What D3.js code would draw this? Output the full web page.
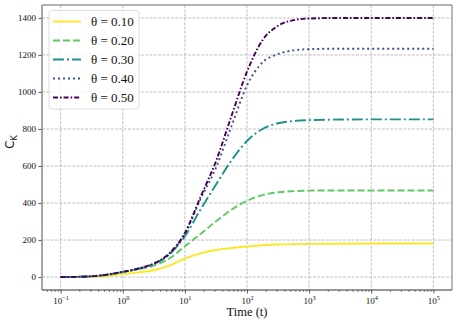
<!DOCTYPE html>
<html><head><meta charset="utf-8">
<script src="https://cdn.jsdelivr.net/npm/d3@7"></script>
<style>body{margin:0;background:#fff}svg{display:block}</style>
</head><body><svg id="c" width="458" height="325"></svg>
<script>
const times=[0.1,0.178,0.316,0.562,1,1.78,3.16,5.62,10,17.8,31.6,56.2,100,178,316,562,1000,3162,10000,31623,100000];
const theta010=[0,1,2,6,16,25,37,62,100,128,146,157,165,172,176,178,179,180,181,181,181];
const theta020=[0,1,4,12,27,42,62,100,166,232,301,364,412,443,458,464,467,468,468,468,468];
const theta030=[0,1,4,13,28,45,70,122,220,364,499,630,735,800,831,843,848,851,852,852,852];
const theta040=[0,1,4,13,28,45,72,124,234,420,590,815,1035,1160,1205,1225,1231,1234,1234,1234,1234];
const theta050=[0,1,4,13,28,46,73,128,238,432,625,870,1110,1280,1358,1388,1397,1400,1400,1400,1400];
const seriesNames=["θ = 0.10","θ = 0.20","θ = 0.30","θ = 0.40","θ = 0.50"];
const seriesValues=[theta010,theta020,theta030,theta040,theta050];
const colors=["#fde725","#5ec962","#21918c","#3b528b","#440154"];
const dashes=[null,"7,3","11,3,2,3","2,3","5,2,1.6,2"];
const xTicks=[0.1,1,10,100,1000,10000,100000];
const xTickExps=["\u22121","0","1","2","3","4","5"];
const yTicks=[0,200,400,600,800,1000,1200,1400];

const svg=d3.select("#c");
const L=42,R=452,T=5,B=290;
const x=d3.scaleLog().domain([Math.pow(10,-1.3),Math.pow(10,5.3)]).range([L,R]);
const y=d3.scaleLinear().domain([-70,1470]).range([B,T]);
const serif="Liberation Serif, Times New Roman, serif";

// grid
const grid=svg.append("g").attr("stroke","#b0b0b0").attr("stroke-width",0.8).attr("stroke-dasharray","3,1.3");
xTicks.forEach(t=>grid.append("line").attr("x1",x(t)).attr("x2",x(t)).attr("y1",T).attr("y2",B));
yTicks.forEach(v=>grid.append("line").attr("x1",L).attr("x2",R).attr("y1",y(v)).attr("y2",y(v)));

// minor ticks
const minors=[];
for(let e=-2;e<=5;e++){for(let k=2;k<=9;k++){const v=k*Math.pow(10,e);const px=x(v);if(px>=L&&px<=R)minors.push(v);}}
const xMinor=svg.append("g").attr("transform",`translate(0,${B})`)
  .call(d3.axisBottom(x).tickValues(minors).tickSize(2).tickFormat(""));
xMinor.select(".domain").remove();
xMinor.selectAll("line").attr("stroke","#333").attr("stroke-width",0.6);

const xMajor=svg.append("g").attr("transform",`translate(0,${B})`)
  .call(d3.axisBottom(x).tickValues(xTicks).tickSize(3.5).tickFormat(""));
xMajor.select(".domain").remove();
xMajor.selectAll("line").attr("stroke","#333").attr("stroke-width",0.8);
xMajor.selectAll(".tick").each(function(d,i){
  const t=d3.select(this).append("text").attr("y",14).attr("fill","#111")
    .attr("font-family",serif).attr("font-size",9)
    .attr("text-anchor","middle");
  t.append("tspan").text("10");
  t.append("tspan").attr("dy",-4).attr("font-size",6.3).text(xTickExps[i]);
});

const yAx=svg.append("g").attr("transform",`translate(${L},0)`)
  .call(d3.axisLeft(y).tickValues(yTicks).tickSize(3.5).tickPadding(2.5).tickFormat(d3.format("d")));
yAx.select(".domain").remove();
yAx.selectAll("line").attr("stroke","#333").attr("stroke-width",0.8);
yAx.selectAll("text").attr("font-family",serif).attr("font-size",9).attr("fill","#111");

// lines
const line=d3.line().x(d=>x(d[0])).y(d=>y(d[1])).curve(d3.curveMonotoneX);
seriesValues.forEach((vals,i)=>{
  const pts=times.map((t,j)=>[t,vals[j]]);
  svg.append("path").datum(pts).attr("d",line).attr("fill","none")
    .attr("stroke",colors[i]).attr("stroke-width",1.9)
    .attr("stroke-dasharray",dashes[i]);
});

// spines
svg.append("line").attr("x1",L).attr("x2",R).attr("y1",T).attr("y2",T).attr("stroke","#999").attr("stroke-width",1.4);
svg.append("line").attr("x1",R).attr("x2",R).attr("y1",T).attr("y2",B).attr("stroke","#999").attr("stroke-width",1.4);
svg.append("line").attr("x1",L).attr("x2",L).attr("y1",T).attr("y2",B).attr("stroke","#888").attr("stroke-width",1.5);
svg.append("line").attr("x1",L).attr("x2",R).attr("y1",B).attr("y2",B).attr("stroke","#333").attr("stroke-width",1.2);

// labels
svg.append("text").attr("x",247).attr("y",316).attr("text-anchor","middle")
  .attr("font-family",serif).attr("font-size",12.5).attr("fill","#111").text("Time (t)");
const yl=svg.append("text").attr("transform","translate(14,142) rotate(-90)").attr("text-anchor","middle")
  .attr("font-family","DejaVu Sans, sans-serif").attr("font-size",11.5).attr("fill","#111");
yl.append("tspan").text("C");
yl.append("tspan").attr("dy",2.5).attr("font-size",8).text("K");

// legend
const lg=svg.append("g");
lg.append("rect").attr("x",49).attr("y",10.5).attr("width",90).attr("height",98.5).attr("rx",3)
  .attr("fill","#fff").attr("fill-opacity",0.85).attr("stroke","#d4d4d4").attr("stroke-width",0.8);
seriesNames.forEach((n,i)=>{
  const yy=21.5+i*19;
  lg.append("line").attr("x1",53).attr("x2",81).attr("y1",yy).attr("y2",yy)
    .attr("stroke",colors[i]).attr("stroke-width",1.9).attr("stroke-dasharray",dashes[i]);
  lg.append("text").attr("x",91).attr("y",yy+4.5)
    .attr("font-family",serif).attr("font-size",13).attr("fill","#111").text(n);
});
</script></body></html>
